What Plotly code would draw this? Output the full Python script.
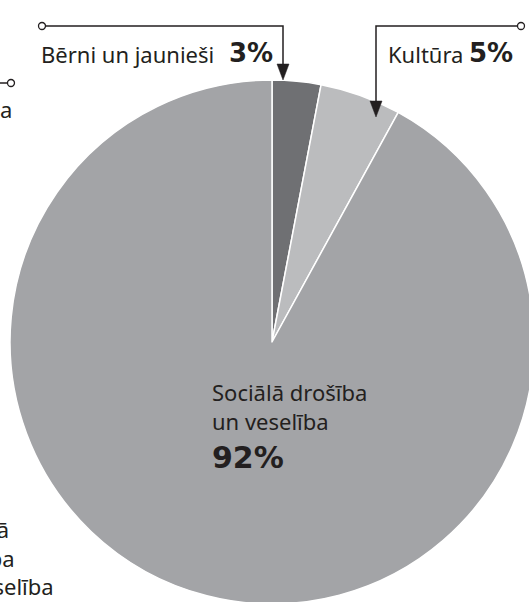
import plotly.graph_objects as go

# ---- data ----
labels = ["Bērni un jaunieši", "Kultūra", "Sociālā drošība un veselība"]
values = [3, 5, 92]
colors = ["#6f7073", "#bbbcbe", "#a3a4a7"]
pct_labels = [f"{v}%" for v in values]

# cropped neighbour labels (partially outside the picture)
left_top_fragment = "a"
left_bottom_fragment = ["Sociālā", "drošība", "un veselība"]

W, H = 544, 604          # figure is a bit larger than the window; edges get cropped
INK = "#231f20"
REG = "Noto Sans"
BOLD = "DejaVu Sans"


def X(px):
    return px / W


def Y(py):
    return 1 - py / H


fig = go.Figure(
    go.Pie(
        labels=labels,
        values=values,
        sort=False,
        direction="clockwise",
        rotation=0,
        marker=dict(colors=colors, line=dict(color="white", width=1.5)),
        textinfo="none",
        hoverinfo="label+percent",
        domain=dict(x=[0, 1], y=[0, 524 / 604]),
        showlegend=False,
    )
)

shapes = []
annotations = []


def leader(points, circle_at, tip):
    # elbow line
    path = "M " + " L ".join(f"{X(a)},{Y(b)}" for a, b in points)
    shapes.append(dict(type="path", xref="paper", yref="paper", path=path,
                       line=dict(color=INK, width=1.5)))
    # hollow circle at the start
    cx, cy = circle_at
    r = 3.5
    shapes.append(dict(type="circle", xref="paper", yref="paper",
                       x0=X(cx - r), x1=X(cx + r), y0=Y(cy + r), y1=Y(cy - r),
                       line=dict(color=INK, width=1.3), fillcolor="white"))
    # filled arrow head
    if tip is not None:
        tx, ty = tip
        tri = f"M {X(tx - 6)},{Y(ty - 16)} L {X(tx + 6)},{Y(ty - 16)} L {X(tx)},{Y(ty)} Z"
        shapes.append(dict(type="path", xref="paper", yref="paper", path=tri,
                           line=dict(color=INK, width=0.5), fillcolor=INK))


# Bērni un jaunieši
leader([(42, 26), (283, 26), (283, 66)], (42, 26), (283, 80))
# Kultūra
leader([(521, 26), (376, 26), (376, 103)], (521, 26), (376, 117))
# left-top fragment line
leader([(-5, 83), (8, 83)], (11, 83), None)


def txt(x, y, text, size, family, xanchor="left", bold=False, align="left"):
    annotations.append(dict(
        x=X(x), y=Y(y), xref="paper", yref="paper", text=f"<b>{text}</b>" if bold else text,
        showarrow=False, xanchor=xanchor, yanchor="middle", align=align,
        font=dict(family=family, size=size, color=INK)))


# top labels
txt(216, 54, labels[0], 22, REG, xanchor="right")
txt(227, 53, pct_labels[0], 26, BOLD, bold=True)
txt(386, 54, labels[1], 22, REG)
txt(467, 53, pct_labels[1], 26, BOLD, bold=True)

# inside label for the large slice
txt(210, 406, "Sociālā drošība<br>un veselība", 22, REG)
txt(210, 457, pct_labels[2], 30, BOLD, bold=True)

# cropped fragments on the left
txt(-2, 109, left_top_fragment, 22, REG)
txt(-65, 557, "<br>".join(left_bottom_fragment), 22, REG)

fig.update_layout(
    width=W,
    height=H,
    margin=dict(l=0, r=0, t=0, b=0),
    paper_bgcolor="white",
    plot_bgcolor="white",
    shapes=shapes,
    annotations=annotations,
)

fig.write_html(
    "out.html",
    post_script=(
        "document.documentElement.style.overflow='hidden';"
        "document.body.style.overflow='hidden';"
        "document.body.style.margin='0';"
    ),
)
